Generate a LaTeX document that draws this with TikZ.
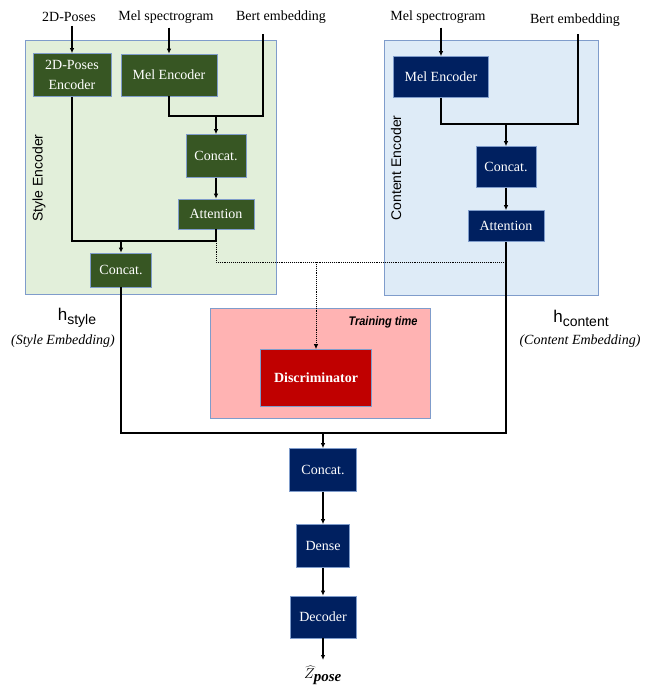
\documentclass[tikz,border=0pt]{standalone}
\usepackage{fontspec}
\setmainfont{Liberation Serif}
\setsansfont{Liberation Sans}
\usetikzlibrary{arrows.meta}
\definecolor{dkgreen}{HTML}{375623}
\definecolor{navy}{HTML}{002060}
\definecolor{dred}{HTML}{C00000}
\definecolor{lgreen}{HTML}{E2EFDA}
\definecolor{lblue}{HTML}{DEEBF7}
\definecolor{lpink}{HTML}{FFB3B3}
\definecolor{edgeblue}{HTML}{7F9CCB}
\begin{document}
\begin{tikzpicture}[x=1pt,y=-1pt,
  lbl/.style={font=\fontsize{14}{16}\selectfont, inner sep=0},
  blk/.style={draw=edgeblue, line width=0.6pt, text=white, inner sep=0, align=center,
     font=\fontsize{14}{20}\selectfont},
  gblk/.style={blk, fill=dkgreen},
  nblk/.style={blk, fill=navy},
  area/.style={draw=edgeblue, line width=0.7pt},
  ln/.style={line width=1.2pt, black},
  arr/.style={ln, -{Latex[length=5pt,width=4.5pt]}},
  dot/.style={line width=0.9pt, densely dotted},
  vlab/.style={font=\sffamily\fontsize{14}{16}\selectfont, rotate=90, inner sep=0},
  emb/.style={font=\itshape\fontsize{14}{16}\selectfont, inner sep=0}
]
\useasboundingbox (0,0) rectangle (647,686);

% background areas
\fill[lgreen] (25,40) rectangle (276,294);
\draw[area] (25,40) rectangle (276,294);
\fill[lblue] (384,40) rectangle (598,295);
\draw[area] (384,40) rectangle (598,295);
\fill[lpink] (210,308) rectangle (430,418);
\draw[area] (210,308) rectangle (430,418);

\node[vlab] (styl) at (39,178) {Style Encoder};
\node[vlab] (contl) at (396,168) {Content Encoder};
\node[font=\sffamily\bfseries\itshape\fontsize{12.5}{14}\selectfont, xscale=0.88, inner sep=0] (tt) at (383,322) {Training time};

% input labels
\node[lbl] (lpose) at (69,17) {2D-Poses};
\node[lbl] (lmel1) at (166,17) {Mel spectrogram};
\node[lbl] (lbert1) at (281,17) {Bert embedding};
\node[lbl] (lmel2) at (438,17) {Mel spectrogram};
\node[lbl] (lbert2) at (575,20) {Bert embedding};

% style encoder blocks
\node[gblk, minimum width=78, minimum height=43] (pe) at (72,75) {2D-Poses\\Encoder};
\node[gblk, minimum width=96, minimum height=42] (me1) at (169,75) {Mel Encoder};
\node[gblk, minimum width=60, minimum height=43] (cs1) at (216,156) {Concat.};
\node[gblk, minimum width=76, minimum height=30] (as) at (216,214) {Attention};
\node[gblk, minimum width=61, minimum height=34] (cs2) at (121,270) {Concat.};

% content encoder blocks
\node[nblk, minimum width=95, minimum height=41] (me2) at (441,77) {Mel Encoder};
\node[nblk, minimum width=60, minimum height=41] (cc1) at (506,167) {Concat.};
\node[nblk, minimum width=76, minimum height=31] (ac) at (506,226) {Attention};

% discriminator
\node[blk, fill=dred, minimum width=111, minimum height=57, font=\bfseries\fontsize{14}{16}\selectfont] (disc) at (316,378) {Discriminator};

% decoder chain
\node[nblk, minimum width=67, minimum height=43] (cf) at (323,470) {Concat.};
\node[nblk, minimum width=53, minimum height=43] (dn) at (323,546) {Dense};
\node[nblk, minimum width=66, minimum height=42] (dc) at (323,617) {Decoder};
\coordinate (zout) at (323,660);
\node[inner sep=0, font=\fontsize{15}{16}\selectfont] (zp) at (323,675) {$\widehat{Z}_{\textbf{\textit{pose}}}$};

% embedding labels
\node[inner sep=0, font=\sffamily] (hs) at (77,318) {{\fontsize{17}{18}\selectfont h}\raisebox{-4pt}{\fontsize{14}{16}\selectfont style}};
\node[emb] (hse) at (63,341) {(Style Embedding)};
\node[inner sep=0, font=\sffamily] (hc) at (581,318) {{\fontsize{17}{18}\selectfont h}\raisebox{-4pt}{\fontsize{14}{16}\selectfont content}};
\node[emb] (hce) at (580,341) {(Content Embedding)};

% junction coordinates
\coordinate (j1) at (216,116);
\coordinate (j2) at (506,124);
\coordinate (j3) at (121,241);
\coordinate (j3r) at (216,241);
\coordinate (d1) at (216,262);
\coordinate (d2) at (506,262);
\coordinate (dd) at (316,262);
\coordinate (jb) at (323,433);
\coordinate (b1) at (263,34);
\coordinate (b2) at (578,34);

% style encoder connectors
\draw[arr] (pe.north |- lpose.south) ++(0,4) -- (pe.north);
\draw[arr] (me1.north |- lmel1.south) ++(0,4) -- (me1.north);
\draw[ln] (me1.south) |- (j1);
\draw[ln] (b1) |- (j1);
\draw[arr] (j1) -- (cs1.north);
\draw[arr] (cs1.south) -- (as.north);
\draw[ln] (pe.south) |- (j3r);
\draw[ln] (as.south) -- (j3r);
\draw[arr] (j3) -- (cs2.north);

% content encoder connectors
\draw[arr] (me2.north |- lmel2.south) ++(0,4) -- (me2.north);
\draw[ln] (me2.south) |- (j2);
\draw[ln] (b2) |- (j2);
\draw[arr] (j2) -- (cc1.north);
\draw[arr] (cc1.south) -- (ac.north);

% dotted path to discriminator
\draw[dot] (j3r) -- (d1) -- (d2);
\draw[dot, -{Latex[length=5pt,width=4.5pt]}] (dd) -- (disc.north);

% to decoder
\draw[ln] (cs2.south) |- (jb);
\draw[ln] (ac.south) |- (jb);
\draw[arr] (jb) -- (cf.north);
\draw[arr] (cf.south) -- (dn.north);
\draw[arr] (dn.south) -- (dc.north);
\draw[arr] (dc.south) -- (zout);
\end{tikzpicture}
\end{document}
